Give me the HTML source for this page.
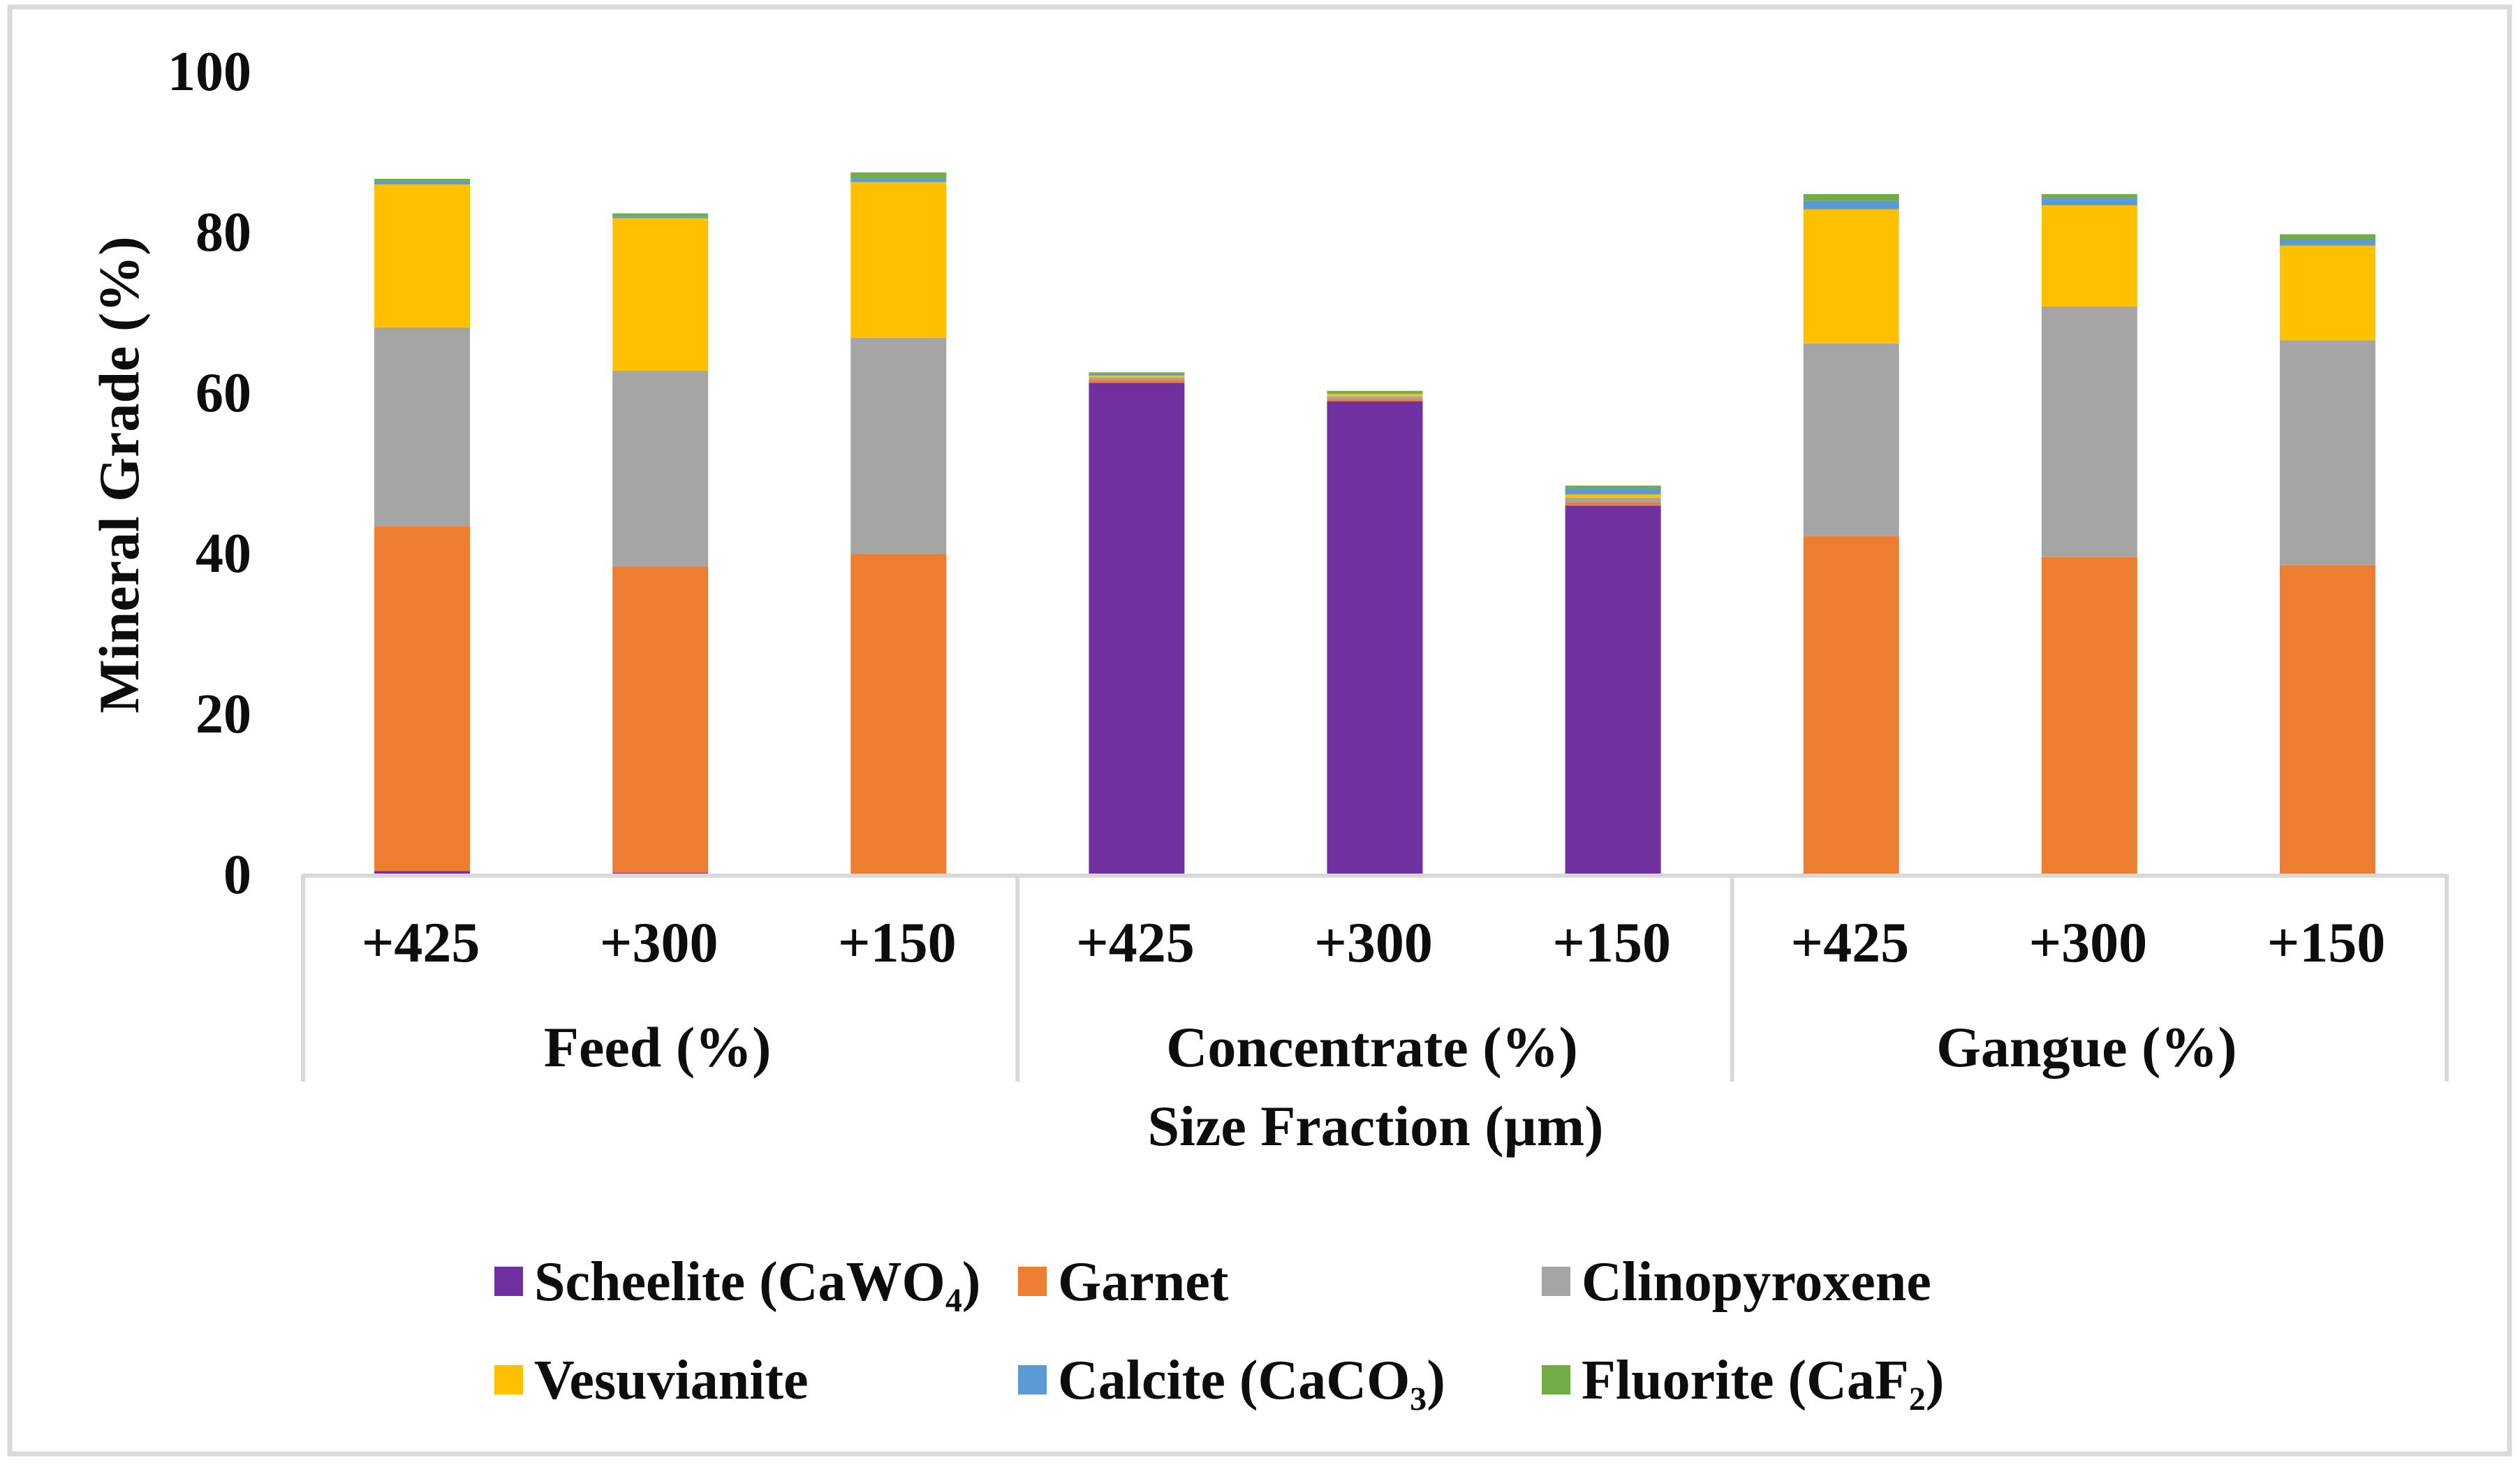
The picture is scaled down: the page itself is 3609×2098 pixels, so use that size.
<!DOCTYPE html>
<html><head><meta charset="utf-8"><style>
html,body{margin:0;padding:0;background:#fff;}
svg{display:block;}
text{font-family:"Liberation Serif","Times New Roman",serif;font-weight:bold;fill:#0d0d0d;}
</style></head><body>
<svg id="chart" width="3609" height="2098" viewBox="0 0 3609 2098" xmlns="http://www.w3.org/2000/svg">
<rect x="14" y="10" width="3580" height="2072" fill="#fff" stroke="#d9d9d9" stroke-width="7"/>
<g id="bars"></g>
<g id="axes"></g>
<g id="legend"></g>
</svg>
<script>
const categories = ["+425","+300","+150","+425","+300","+150","+425","+300","+150"];
const groups = ["Feed (%)","Concentrate (%)","Gangue (%)"];
const seriesNames = ["Scheelite (CaWO₄)","Garnet","Clinopyroxene","Vesuvianite","Calcite (CaCO₃)","Fluorite (CaF₂)"];
const scheelite = [0.4,0.2,0.0,61.2,58.9,45.9,0.0,0.0,0.0];
const garnet = [42.9,38.1,39.9,0.4,0.3,0.4,42.1,39.5,38.5];
const clinopyroxene = [24.8,24.4,26.9,0.3,0.3,0.6,24.0,31.2,28.0];
const vesuvianite = [17.8,19.0,19.4,0.2,0.3,0.4,16.7,12.6,11.8];
const calcite = [0.4,0.2,0.4,0.2,0.1,0.7,1.1,0.9,0.7];
const fluorite = [0.3,0.4,0.8,0.2,0.3,0.4,0.8,0.5,0.7];
const yTicks = [0,20,40,60,80,100];

const colors = ["#7030a0","#ed7d31","#a5a5a5","#ffc000","#5b9bd5","#70ad47"];
const series = [scheelite,garnet,clinopyroxene,vesuvianite,calcite,fluorite];
const NS="http://www.w3.org/2000/svg";
const X0=434, X1=3504, Y0=1252, Y100=102;
const bw=(X1-X0)/categories.length;
function yScale(v){return Y0-(Y0-Y100)*v/100;}
function xCenter(i){return X0+bw*(i+0.5);}
function mk(tag,attrs,parent){const e=document.createElementNS(NS,tag);for(const k in attrs)e.setAttribute(k,attrs[k]);parent.appendChild(e);return e;}

const gb=document.getElementById('bars');
categories.forEach((c,i)=>{
  let acc=0;
  series.forEach((s,si)=>{
    const v=s[i]; if(v<=0){return;}
    const r=mk('rect',{x:xCenter(i)-68.5,y:yScale(acc+v),width:137,height:yScale(acc)-yScale(acc+v),fill:colors[si]},gb);
    
    
    acc+=v;
  });
});

const ga=document.getElementById('axes');
let l=mk('line',{x1:X0,y1:Y0+2,x2:X1,y2:Y0+2,stroke:'#d9d9d9','stroke-width':6},ga);


for(let g=0;g<=groups.length;g++){
  const x=X0+g*3*bw;
  const d=mk('line',{x1:x,y1:Y0,x2:x,y2:1549,stroke:'#d9d9d9','stroke-width':6},ga);
  
  
}
yTicks.forEach(t=>{
  const e=mk('text',{x:360,y:yScale(t)+27,'text-anchor':'end','font-size':80},ga);
  e.textContent=t;
  
  
});
categories.forEach((c,i)=>{
  const e=mk('text',{x:xCenter(i)-2,y:1377,'text-anchor':'middle','font-size':82},ga);
  e.textContent=c;
  
  
});
groups.forEach((g,gi)=>{
  const e=mk('text',{x:X0+(gi*3+1.5)*bw-4,y:1527,'text-anchor':'middle','font-size':82},ga);
  e.textContent=g;
  
  
});
let xt=mk('text',{x:1970,y:1640,'text-anchor':'middle','font-size':82},ga);
xt.textContent='Size Fraction (µm)';


let yt=mk('text',{x:0,y:0,'text-anchor':'middle','font-size':82,transform:'translate(198,680) rotate(-90)'},ga);
yt.textContent='Mineral Grade (%)';



const gl=document.getElementById('legend');
const lx=[708,1458,2208], ly=[1835,1976];
seriesNames.forEach((n,i)=>{
  const x=lx[i%3], y=ly[Math.floor(i/3)];
  const g=mk('g',{},gl);
  
  
  const r=mk('rect',{x:x,y:y-21,width:41,height:42,fill:colors[i]},g);
  
  
  const t=mk('text',{x:x+57,y:y+27,'font-size':80},g);
  t.textContent=n;
  
  
});
</script>
</body></html>
